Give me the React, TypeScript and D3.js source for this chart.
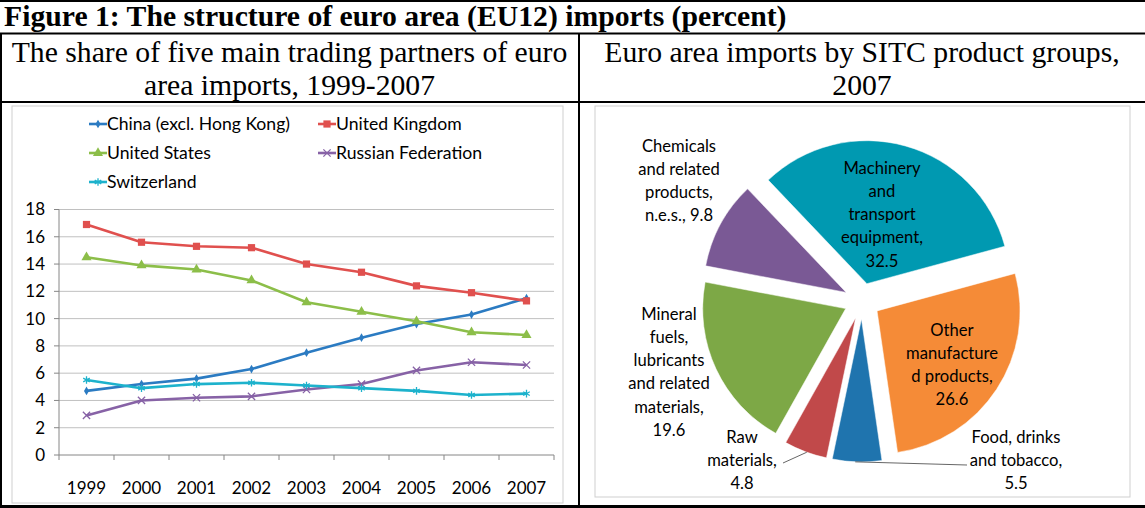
import React from "react";
import * as d3 from "d3";

const years = ["1999", "2000", "2001", "2002", "2003", "2004", "2005", "2006", "2007"];
const chinaValues = [4.7, 5.2, 5.6, 6.3, 7.5, 8.6, 9.6, 10.3, 11.5];
const ukValues = [16.9, 15.6, 15.3, 15.2, 14.0, 13.4, 12.4, 11.9, 11.3];
const usValues = [14.5, 13.9, 13.6, 12.8, 11.2, 10.5, 9.8, 9.0, 8.8];
const russiaValues = [2.9, 4.0, 4.2, 4.3, 4.8, 5.2, 6.2, 6.8, 6.6];
const swissValues = [5.5, 4.9, 5.2, 5.3, 5.1, 4.9, 4.7, 4.4, 4.5];
const seriesNames = ["China (excl. Hong Kong)", "United Kingdom", "United States", "Russian Federation", "Switzerland"];
const seriesColors = ["#2B7BC2", "#E0504E", "#8CBE49", "#8762A6", "#1DB2CC"];
const yTicks = [0, 2, 4, 6, 8, 10, 12, 14, 16, 18];

const productGroups = [
  "Food, drinks and tobacco",
  "Raw materials",
  "Mineral fuels, lubricants and related materials",
  "Chemicals and related products, n.e.s.",
  "Machinery and transport equipment",
  "Other manufactured products",
];
const productShares = [5.5, 4.8, 19.6, 9.8, 32.5, 26.6];
const productColors = ["#1F74AE", "#C1494A", "#7DA846", "#7A5995", "#0099B1", "#F58B37"];
// text lines of each label; the value is appended to the last line
const productLabelLines = [
  ["Food, drinks", "and tobacco,", ""],
  ["Raw", "materials,", ""],
  ["Mineral", "fuels,", "lubricants", "and related", "materials,", ""],
  ["Chemicals", "and related", "products,", "n.e.s., "],
  ["Machinery", "and", "transport", "equipment,", ""],
  ["Other", "manufacture", "d products,", ""],
];
const labelAnchors = [
  { x: 1016, y: 437, leader: { angle: 182.5, x: 967, y: 465 } },
  { x: 742, y: 437, leader: { angle: 200, x: 783, y: 463 } },
  { x: 669, y: 314 },
  { x: 679, y: 146 },
  { x: 882, y: 168 },
  { x: 952, y: 330 },
];

const W = 1145;
const H = 508;
const chartFont = "Lato, 'Open Sans', sans-serif";
const serif = "'Liberation Serif', 'Times New Roman', serif";

function LineChart() {
  const x = d3.scaleBand().domain(years).range([59, 554]);
  const y = d3.scaleLinear().domain([0, 18]).range([455, 209.5]);
  const cx = (yr: string) => (x(yr) as number) + x.bandwidth() / 2;
  const seriesValues = [chinaValues, ukValues, usValues, russiaValues, swissValues];
  const symbols = [d3.symbolDiamond, d3.symbolSquare, d3.symbolTriangle, d3.symbolX, d3.symbolAsterisk];
  const symbolSizes = [22, 52, 44, 36, 40];
  const strokeSymbol = [false, false, false, true, true];
  const line = d3
    .line<number>()
    .x((_, i) => cx(years[i]))
    .y((d) => y(d));

  const marker = (k: number, px: number, py: number, key: string) => {
    const path = d3.symbol().type(symbols[k]).size(symbolSizes[k])() as string;
    return strokeSymbol[k] ? (
      <path key={key} d={path} transform={`translate(${px},${py})`} fill="none" stroke={seriesColors[k]} strokeWidth={1.3} />
    ) : (
      <path key={key} d={path} transform={`translate(${px},${py})`} fill={seriesColors[k]} />
    );
  };

  const legendPos = [
    { x: 89, y: 124 },
    { x: 318, y: 124 },
    { x: 89, y: 153 },
    { x: 318, y: 153 },
    { x: 89, y: 182 },
  ];

  return (
    <g>
      <rect x={12} y={106} width={551} height={397} fill="#fff" stroke="#CFCFCF" strokeWidth={1} />
      {yTicks.map((t) => (
        <g key={t}>
          {t > 0 && <line x1={59} x2={554} y1={y(t)} y2={y(t)} stroke="#C0C0C0" strokeWidth={1} />}
          <line x1={54} x2={59} y1={y(t)} y2={y(t)} stroke="#868686" strokeWidth={1} />
          <text x={45} y={y(t)} dy="0.35em" textAnchor="end" fontSize={17} fontFamily={chartFont} fill="#000">
            {t}
          </text>
        </g>
      ))}
      <line x1={59} x2={59} y1={209.5} y2={455} stroke="#868686" strokeWidth={1} />
      <line x1={59} x2={554} y1={455} y2={455} stroke="#868686" strokeWidth={1} />
      {d3.range(years.length + 1).map((i) => (
        <line key={i} x1={59 + i * x.bandwidth()} x2={59 + i * x.bandwidth()} y1={455} y2={460} stroke="#868686" strokeWidth={1} />
      ))}
      {years.map((yr) => (
        <text key={yr} x={cx(yr)} y={488} dy="0.35em" textAnchor="middle" fontSize={17} fontFamily={chartFont} fill="#000">
          {yr}
        </text>
      ))}
      {seriesValues.map((vals, k) => (
        <g key={k}>
          <path d={line(vals) as string} fill="none" stroke={seriesColors[k]} strokeWidth={2.6} strokeLinejoin="round" />
          {vals.map((v, i) => marker(k, cx(years[i]), y(v), `${k}-${i}`))}
        </g>
      ))}
      {seriesNames.map((name, k) => (
        <g key={name}>
          <line x1={legendPos[k].x} x2={legendPos[k].x + 18} y1={legendPos[k].y} y2={legendPos[k].y} stroke={seriesColors[k]} strokeWidth={2.6} />
          {marker(k, legendPos[k].x + 9, legendPos[k].y, `lg${k}`)}
          <text x={legendPos[k].x + 18} y={legendPos[k].y} dy="0.35em" fontSize={17.6} fontFamily={chartFont} fill="#000">
            {name}
          </text>
        </g>
      ))}
    </g>
  );
}

function PieChart() {
  const total = d3.sum(productShares);
  const machineryIndex = 4;
  const before = d3.sum(productShares.slice(0, machineryIndex));
  const machineryStartDeg = 316.4;
  const startDeg = machineryStartDeg - (before / total) * 360;
  const start = (startDeg * Math.PI) / 180;
  const pie = d3
    .pie<number>()
    .sort(null)
    .value((d) => d)
    .startAngle(start)
    .endAngle(start + 2 * Math.PI);
  const arcs = pie(productShares);
  const radius = 143;
  const explode = 18;
  const center = { x: 862, y: 301 };
  const arc = d3.arc<d3.PieArcDatum<number>>().innerRadius(0).outerRadius(radius);
  const lh = 23.2;

  return (
    <g>
      <rect x={595} y={106} width={535} height={391} fill="#fff" stroke="#CFCFCF" strokeWidth={1} />
      {arcs.map((a, i) => {
        const mid = (a.startAngle + a.endAngle) / 2;
        const ox = center.x + explode * Math.sin(mid);
        const oy = center.y - explode * Math.cos(mid);
        return (
          <path key={productGroups[i]} d={arc(a) as string} transform={`translate(${ox},${oy})`} fill={productColors[i]} stroke="#fff" strokeWidth={0.5} />
        );
      })}
      {arcs.map((a, i) => {
        const anchor = labelAnchors[i];
        if (!anchor.leader) return null;
        const mid = (a.startAngle + a.endAngle) / 2;
        const ox = center.x + explode * Math.sin(mid);
        const oy = center.y - explode * Math.cos(mid);
        const ang = (anchor.leader.angle * Math.PI) / 180;
        const sx = ox + radius * Math.sin(ang);
        const sy = oy - radius * Math.cos(ang);
        return <line key={`ld${i}`} x1={sx} y1={sy} x2={anchor.leader.x} y2={anchor.leader.y} stroke="#555" strokeWidth={0.9} />;
      })}
      {productLabelLines.map((lines, i) => {
        const anchor = labelAnchors[i];
        const texts = lines.map((l, j) => (j === lines.length - 1 ? `${l}${productShares[i]}` : l));
        return (
          <text key={`lb${i}`} textAnchor="middle" fontSize={16.6} fontFamily={chartFont} fill="#000">
            {texts.map((t, j) => (
              <tspan key={j} x={anchor.x} y={anchor.y + j * lh} dy="0.35em">
                {t}
              </tspan>
            ))}
          </text>
        );
      })}
    </g>
  );
}

export default function App() {
  return (
    <div style={{ position: "absolute", left: 0, top: 0 }}>
      <svg width={W} height={H} style={{ display: "block" }}>
        <rect x={0} y={0} width={W} height={H} fill="#fff" />
        <text x={4} y={26} fontFamily={serif} fontWeight="bold" fontSize={29.7} fill="#000">
          Figure 1: The structure of euro area (EU12) imports (percent)
        </text>
        <text textAnchor="middle" fontFamily={serif} fontSize={29.7} fill="#000">
          <tspan x={289.5} y={62}>The share of five main trading partners of euro</tspan>
          <tspan x={289.5} y={95}>area imports, 1999-2007</tspan>
        </text>
        <text textAnchor="middle" fontFamily={serif} fontSize={29.7} fill="#000">
          <tspan x={862} y={62}>Euro area imports by SITC product groups,</tspan>
          <tspan x={862} y={95}>2007</tspan>
        </text>
        <LineChart />
        <PieChart />
        {/* table rules */}
        <line x1={0} x2={W} y1={1} y2={1} stroke="#000" strokeWidth={2} />
        <line x1={0} x2={W} y1={33.5} y2={33.5} stroke="#000" strokeWidth={2} />
        <line x1={0} x2={W} y1={102} y2={102} stroke="#000" strokeWidth={2} />
        <line x1={0} x2={W} y1={506.5} y2={506.5} stroke="#000" strokeWidth={3} />
        <line x1={1} x2={1} y1={33} y2={H} stroke="#000" strokeWidth={2} />
        <line x1={579} x2={579} y1={33} y2={H} stroke="#000" strokeWidth={2} />
      </svg>
    </div>
  );
}
